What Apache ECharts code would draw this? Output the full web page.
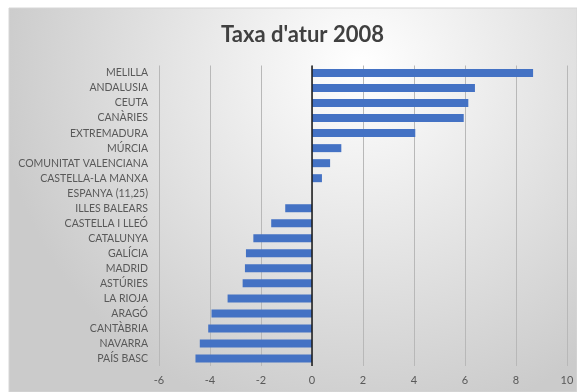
<!DOCTYPE html>
<html>
<head>
<meta charset="utf-8">
<script src="https://cdn.jsdelivr.net/npm/echarts@6/dist/echarts.min.js"></script>
<style>
html,body{margin:0;padding:0;background:#fff;}
#chart{width:577px;height:392px;}
</style>
</head>
<body>
<div id="chart"></div>
<script>
const categories = ["MELILLA","ANDALUSIA","CEUTA","CANÀRIES","EXTREMADURA","MÚRCIA","COMUNITAT VALENCIANA","CASTELLA-LA MANXA","ESPANYA (11,25)","ILLES BALEARS","CASTELLA I LLEÓ","CATALUNYA","GALÍCIA","MADRID","ASTÚRIES","LA RIOJA","ARAGÓ","CANTÀBRIA","NAVARRA","PAÍS BASC"];
const values = [8.67, 6.39, 6.13, 5.95, 4.05, 1.15, 0.71, 0.39, 0, -1.05, -1.6, -2.3, -2.59, -2.63, -2.72, -3.31, -3.94, -4.07, -4.4, -4.57];
const titleText = "Taxa d'atur 2008";

const chart = echarts.init(document.getElementById('chart'));
chart.setOption({
  animation: false,
  graphic: [{
    type: 'rect', z: -10, silent: true,
    shape: {x: 9, y: 8, width: 568, height: 384},
    style: {
      fill: new echarts.graphic.RadialGradient(0.62, 0.15, 0.95, [
        {offset: 0, color: '#ffffff'},
        {offset: 1, color: '#cbcbcb'}
      ]),
      stroke: '#d6d6d6', lineWidth: 1
    }
  }],
  title: {
    text: titleText, left: 216, top: 19,
    textStyle: {fontFamily: 'Lato', fontWeight: 'bold', fontSize: 22, color: '#404040'}
  },
  grid: {left: 159, right: 10, top: 65.5, bottom: 26},
  xAxis: {
    type: 'value', min: -6, max: 10, interval: 2,
    axisLine: {show: false}, axisTick: {show: false},
    axisLabel: {color: '#595959', fontSize: 11, fontFamily: 'Lato', margin: 9},
    splitLine: {show: true, lineStyle: {color: '#b8b8b8', width: 1}}
  },
  yAxis: {
    type: 'category', data: categories, inverse: true,
    axisLine: {show: false, onZero: false}, axisTick: {show: false},
    axisLabel: {color: '#595959', fontSize: 10.5, fontFamily: 'Lato', margin: 11}
  },
  series: [{
    type: 'bar', data: values, barWidth: 8,
    itemStyle: {color: '#4472C4'},
    markLine: {
      silent: true, symbol: 'none', label: {show: false},
      lineStyle: {color: '#1a1a1a', width: 1.5, type: 'solid'},
      data: [{xAxis: 0}]
    }
  }]
});
</script>
</body>
</html>
